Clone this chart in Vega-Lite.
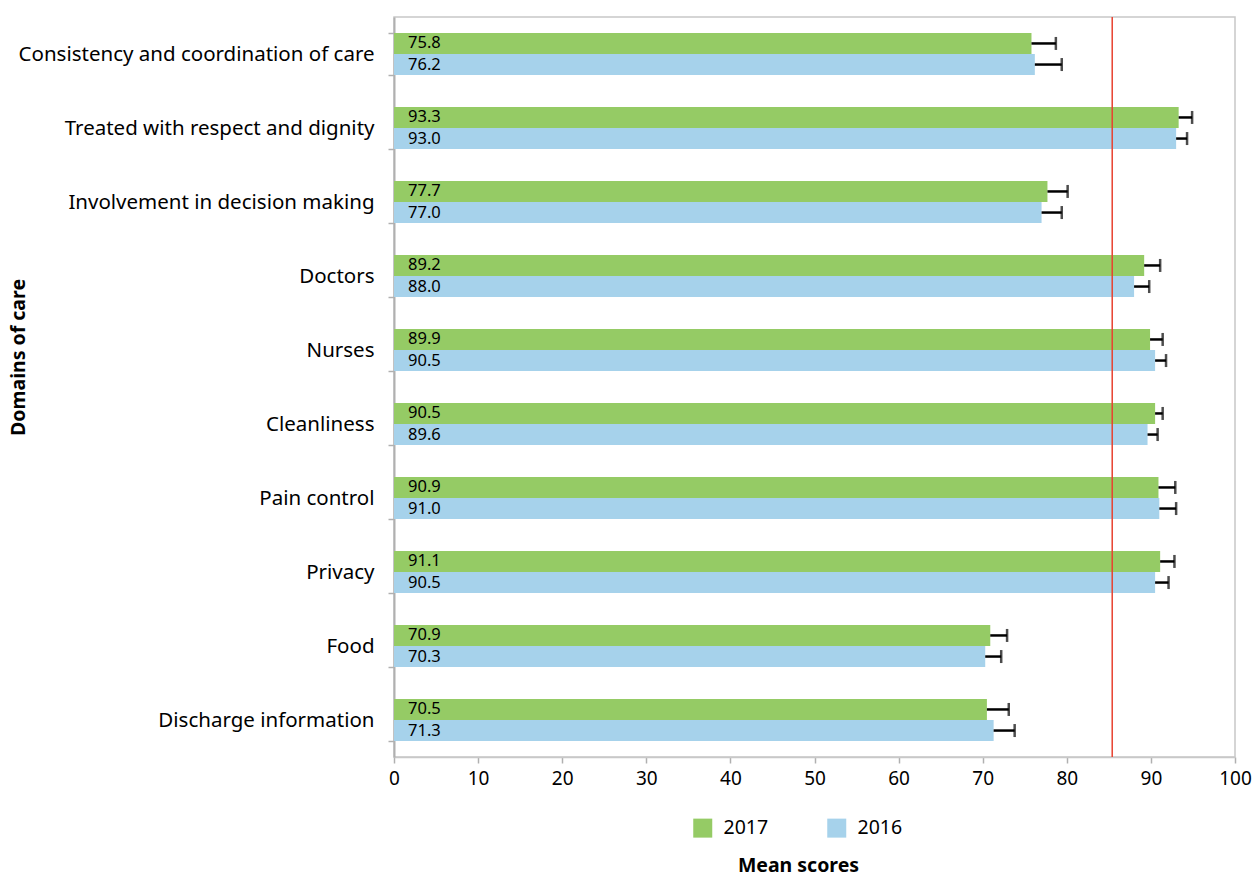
{
  "$schema": "https://vega.github.io/schema/vega-lite/v6.json",
  "width": 841,
  "height": 740,
  "autosize": {"type": "none"},
  "padding": {"left": 394, "top": 17, "right": 19, "bottom": 120},
  "background": "white",
  "config": {
    "font": "Noto Sans",
    "view": {"stroke": "#c8c8c8", "strokeWidth": 1.5},
    "legend": {"padding": 0}
  },
  "datasets": {
    "scores": [
      {"domain": "Consistency and coordination of care", "year": "2017", "value": 75.8, "upper": 78.7},
      {"domain": "Consistency and coordination of care", "year": "2016", "value": 76.2, "upper": 79.4},
      {"domain": "Treated with respect and dignity", "year": "2017", "value": 93.3, "upper": 94.9},
      {"domain": "Treated with respect and dignity", "year": "2016", "value": 93.0, "upper": 94.3},
      {"domain": "Involvement in decision making", "year": "2017", "value": 77.7, "upper": 80.1},
      {"domain": "Involvement in decision making", "year": "2016", "value": 77.0, "upper": 79.4},
      {"domain": "Doctors", "year": "2017", "value": 89.2, "upper": 91.1},
      {"domain": "Doctors", "year": "2016", "value": 88.0, "upper": 89.8},
      {"domain": "Nurses", "year": "2017", "value": 89.9, "upper": 91.4},
      {"domain": "Nurses", "year": "2016", "value": 90.5, "upper": 91.8},
      {"domain": "Cleanliness", "year": "2017", "value": 90.5, "upper": 91.4},
      {"domain": "Cleanliness", "year": "2016", "value": 89.6, "upper": 90.8},
      {"domain": "Pain control", "year": "2017", "value": 90.9, "upper": 92.9},
      {"domain": "Pain control", "year": "2016", "value": 91.0, "upper": 93.0},
      {"domain": "Privacy", "year": "2017", "value": 91.1, "upper": 92.8},
      {"domain": "Privacy", "year": "2016", "value": 90.5, "upper": 92.1},
      {"domain": "Food", "year": "2017", "value": 70.9, "upper": 72.9},
      {"domain": "Food", "year": "2016", "value": 70.3, "upper": 72.2},
      {"domain": "Discharge information", "year": "2017", "value": 70.5, "upper": 73.1},
      {"domain": "Discharge information", "year": "2016", "value": 71.3, "upper": 73.8}
    ],
    "reference": [{"ref": 85.4}]
  },
  "data": {"name": "scores"},
  "encoding": {
    "y": {
      "field": "domain",
      "type": "nominal",
      "sort": null,
      "scale": {"paddingInner": 0.43, "paddingOuter": 0.215},
      "axis": {
        "title": "Domains of care",
        "titleFontSize": 19.5,
        "titleFontWeight": "bold",
        "titleColor": "black",
        "titleX": -376,
        "titleY": 340,
        "titleAlign": "center",
        "titleBaseline": "middle",
        "titleAngle": -90,
        "labelFontSize": 20.5,
        "labelColor": "black",
        "labelPadding": 14,
        "labelLimit": 400,
        "domainColor": "#b0b0b0",
        "domainWidth": 2,
        "tickColor": "#b0b0b0",
        "tickWidth": 1.5,
        "tickSize": 6,
        "tickBand": "extent"
      }
    },
    "yOffset": {"field": "year", "type": "nominal", "sort": ["2017", "2016"], "scale": {"paddingInner": 0, "paddingOuter": 0}}
  },
  "layer": [
    {
      "mark": {"type": "bar"},
      "encoding": {
        "x": {
          "field": "value",
          "type": "quantitative",
          "scale": {"domain": [0, 100], "nice": false},
          "axis": {
            "title": "Mean scores",
            "titleFontSize": 19.5,
            "titleFontWeight": "bold",
            "titleColor": "black",
            "titlePadding": 68,
            "titleX": 404,
            "titleAlign": "center",
            "values": [0, 10, 20, 30, 40, 50, 60, 70, 80, 90, 100],
            "labelFontSize": 19,
            "labelColor": "black",
            "labelPadding": 6,
            "labelFlush": false,
            "grid": false,
            "domainColor": "#c8c8c8",
            "domainWidth": 1.5,
            "tickColor": "#b0b0b0",
            "tickWidth": 1.5,
            "tickSize": 6
          }
        },
        "color": {
          "field": "year",
          "type": "nominal",
          "scale": {"domain": ["2017", "2016"], "range": ["#95CB65", "#A6D2EB"]},
          "legend": {
            "title": null,
            "orient": "none",
            "direction": "horizontal",
            "legendX": 299,
            "legendY": 801,
            "symbolType": "square",
            "symbolSize": 361,
            "symbolStrokeWidth": 0,
            "labelFontSize": 19.5,
            "labelColor": "black",
            "labelOffset": 11,
            "columnPadding": 58
          }
        }
      }
    },
    {
      "mark": {"type": "rule", "color": "black", "strokeWidth": 2.5},
      "encoding": {
        "x": {"field": "value", "type": "quantitative"},
        "x2": {"field": "upper"}
      }
    },
    {
      "mark": {"type": "tick", "color": "black", "thickness": 2.5, "size": 13, "orient": "vertical"},
      "encoding": {
        "x": {"field": "upper", "type": "quantitative"}
      }
    },
    {
      "mark": {"type": "text", "align": "left", "baseline": "middle", "dx": 14, "fontSize": 16.5, "color": "black"},
      "encoding": {
        "x": {"datum": 0, "type": "quantitative"},
        "text": {"field": "value", "type": "quantitative", "format": ".1f"}
      }
    },
    {
      "data": {"name": "reference"},
      "mark": {"type": "rule", "color": "#E8412F", "strokeWidth": 1.5},
      "encoding": {
        "x": {"field": "ref", "type": "quantitative"},
        "y": null,
        "yOffset": null
      }
    }
  ]
}
